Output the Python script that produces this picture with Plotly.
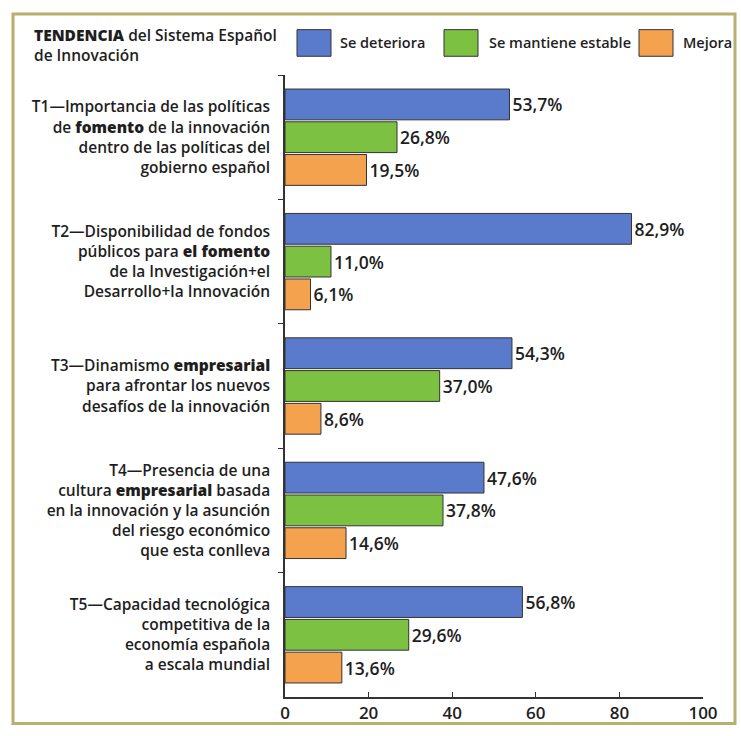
import plotly.graph_objects as go

B = '<span style="font-weight:800">'
E = "</span>"
categories = [
    f"T1—Importancia de las políticas<br>de {B}fomento{E} de la innovación<br>dentro de las políticas del<br>gobierno español",
    f"T2—Disponibilidad de fondos<br>públicos para {B}el fomento{E}<br>de la Investigación+el<br>Desarrollo+la Innovación",
    f"T3—Dinamismo {B}empresarial{E}<br>para afrontar los nuevos<br>desafíos de la innovación",
    f"T4—Presencia de una<br>cultura {B}empresarial{E} basada<br>en la innovación y la asunción<br>del riesgo económico<br>que esta conlleva",
    "T5—Capacidad tecnológica<br>competitiva de la<br>economía española<br>a escala mundial",
]
series_names = ["Se deteriora", "Se mantiene estable", "Mejora"]
se_deteriora = [53.7, 82.9, 54.3, 47.6, 56.8]
se_mantiene = [26.8, 11.0, 37.0, 37.8, 29.6]
mejora = [19.5, 6.1, 8.6, 14.6, 13.6]
x_ticks = [0, 20, 40, 60, 80, 100]
title_text = f"{B}TENDENCIA{E} del Sistema Español<br>de Innovación"

colors = ["#5a7bcb", "#7dc142", "#f5a24f"]
FONT = "Open Sans"
TXT = "#1e1e1e"

W, H = 741, 736
X0P, X1P, Y0P, Y1P = 285, 703, 75, 706
ML, MR, MT, MB = X0P, W - X1P, Y0P, H - Y1P
PW = X1P - X0P
PH = Y1P - Y0P


def px2x(px):
    return (px - X0P) / PW


def py2y(py):
    return (Y1P - py) / PH


def fmt(v):
    return f"{v:.1f}".replace(".", ",") + "%"


fig = go.Figure()
for name, vals, col in zip(series_names, [se_deteriora, se_mantiene, mejora], colors):
    fig.add_trace(go.Bar(
        y=categories, x=vals, name=name, orientation="h",
        marker=dict(color=col, line=dict(color="#333333", width=1)),
        text=[fmt(v) for v in vals], textposition="outside",
        textfont=dict(family=FONT, size=17.5, color=TXT, weight=600),
        cliponaxis=False, showlegend=False,
    ))

shapes = [
    dict(type="rect", xref="paper", yref="paper",
         x0=px2x(13), x1=px2x(735), y0=py2y(733), y1=py2y(13),
         line=dict(color="#b8b06c", width=3), layer="below"),
]
annotations = [
    dict(xref="paper", yref="paper", x=px2x(32), y=py2y(21),
         xanchor="left", yanchor="top", align="left", showarrow=False,
         text=title_text, font=dict(family=FONT, size=15.5, color=TXT, weight=600)),
]
legend_items = [(297, 331, 338), (444, 478, 487), (639, 673, 681)]
for (sx0, sx1, tx), name, col in zip(legend_items, series_names, colors):
    shapes.append(dict(type="rect", xref="paper", yref="paper",
                       x0=px2x(sx0), x1=px2x(sx1), y0=py2y(56), y1=py2y(29),
                       fillcolor=col, line=dict(color="#333333", width=1)))
    annotations.append(dict(xref="paper", yref="paper", x=px2x(tx), y=py2y(42.5),
                            xanchor="left", yanchor="middle", showarrow=False,
                            text=name, font=dict(family=FONT, size=14.5, color=TXT, weight=600)))

fig.update_layout(
    width=W, height=H,
    margin=dict(l=ML, r=MR, t=MT, b=MB),
    paper_bgcolor="white", plot_bgcolor="white",
    barmode="group", bargap=0.21, bargroupgap=0.06,
    shapes=shapes, annotations=annotations,
    xaxis=dict(range=[0, 100], tickvals=x_ticks, ticks="inside", ticklen=5,
               tickcolor="#333333", showline=True, linecolor="#333333", linewidth=1.5,
               showgrid=False, zeroline=False,
               tickfont=dict(family=FONT, size=17, color=TXT, weight=600)),
    yaxis=dict(autorange="reversed", ticks="outside", tickson="boundaries", ticklen=5,
               tickcolor="#333333", showline=True, linecolor="#333333", linewidth=1.5,
               showgrid=False, ticklabelstandoff=10,
               tickfont=dict(family=FONT, size=15.5, color=TXT, weight=600)),
)

fig.write_html(
    "out.html",
    config={"displayModeBar": False},
    post_script="document.body.style.margin='0';document.body.style.overflow='hidden';",
)
